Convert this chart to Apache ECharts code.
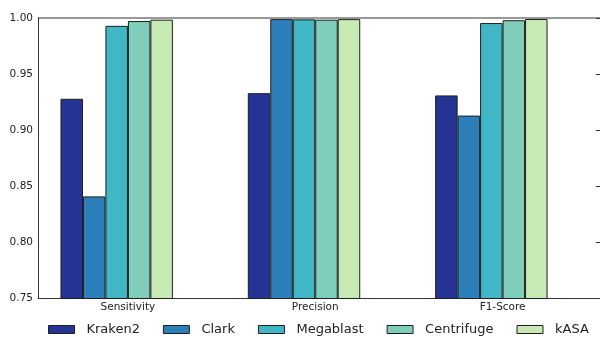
<!DOCTYPE html>
<html>
<head>
<meta charset="utf-8">
<script src="https://cdn.jsdelivr.net/npm/echarts@6/dist/echarts.min.js"></script>
<style>
  html, body { margin: 0; padding: 0; background: #fff; }
  #chart { width: 600px; height: 337px; }
</style>
</head>
<body>
<div id="chart"></div>
<script>
// Metric groups along the x axis
const metrics = ['Sensitivity', 'Precision', 'F1-Score'];
// Classifiers, one bar per metric each
const tools = ['Kraken2', 'Clark', 'Megablast', 'Centrifuge', 'kASA'];
const colors = ['#253494', '#2c7fb8', '#41b6c4', '#7fcdbb', '#c7e9b4'];

// Scores per classifier: [Sensitivity, Precision, F1-Score]
const kraken2 = [0.928, 0.933, 0.931];
const clark = [0.841, 0.999, 0.913];
const megablast = [0.993, 0.9988, 0.9955];
const centrifuge = [0.9973, 0.9985, 0.998];
const kasa = [0.9985, 0.999, 0.9991];

const scores = [kraken2, clark, megablast, centrifuge, kasa];
const barStep = 0.12;     // bar width in x-axis units
const labelShift = 0.06;  // metric labels sit slightly right of the group centre

const series = tools.map((name, j) => ({
  name,
  type: 'bar',
  barWidth: 22.5,
  barGap: '-100%',
  itemStyle: { color: colors[j], borderColor: '#1e1e1e', borderWidth: 1 },
  data: scores[j].map((v, i) => [i + (j - 2) * barStep, v])
}));

const chart = echarts.init(document.getElementById('chart'), null, { renderer: 'canvas' });
chart.setOption({
  animation: false,
  backgroundColor: '#ffffff',
  textStyle: { fontFamily: 'DejaVu Sans' },
  grid: { left: 38, right: -2, top: 18, bottom: 38.5, containLabel: false },
  legend: {
    data: tools,
    left: 48,
    top: 323,
    padding: 0,
    itemWidth: 26,
    itemHeight: 8,
    itemGap: 23,
    icon: 'rect',
    itemStyle: { borderColor: '#1e1e1e', borderWidth: 1 },
    textStyle: { fontSize: 13, color: '#222', fontFamily: 'DejaVu Sans', padding: [0, 0, 0, 7] },
    selectedMode: false
  },
  xAxis: {
    type: 'value',
    min: -0.42,
    max: 2.58,
    splitLine: { show: false },
    axisLine: { show: true, onZero: false, lineStyle: { color: '#333', width: 1 } },
    axisTick: { show: false },
    axisLabel: {
      customValues: metrics.map((m, i) => i + labelShift),
      formatter: v => metrics[Math.round(v - labelShift)],
      fontSize: 10.5,
      color: '#222',
      margin: 3,
      fontFamily: 'DejaVu Sans'
    }
  },
  yAxis: [
    {
      type: 'value',
      min: 0.75,
      max: 1.0,
      interval: 0.05,
      splitLine: { show: false },
      axisLine: { show: true, onZero: false, lineStyle: { color: '#333', width: 1 } },
      axisTick: { show: false },
      axisLabel: {
        formatter: v => v.toFixed(2),
        fontSize: 10.5,
        color: '#222',
        margin: 5,
        fontFamily: 'DejaVu Sans'
      }
    },
    {
      type: 'value',
      position: 'right',
      min: 0.75,
      max: 1.0,
      interval: 0.05,
      splitLine: { show: false },
      axisLine: { show: true, onZero: false, lineStyle: { color: '#333', width: 1 } },
      axisTick: { show: true, inside: true, length: 4, lineStyle: { color: '#333' } },
      axisLabel: { show: false }
    }
  ],
  series
});
// top frame line following the grid's upper edge
const topY = chart.convertToPixel({ yAxisIndex: 0 }, 1.0);
chart.setOption({
  graphic: [{
    type: 'line',
    shape: { x1: 38, y1: topY, x2: 602, y2: topY },
    style: { stroke: '#333', lineWidth: 1 },
    silent: true
  }]
});
</script>
</body>
</html>
